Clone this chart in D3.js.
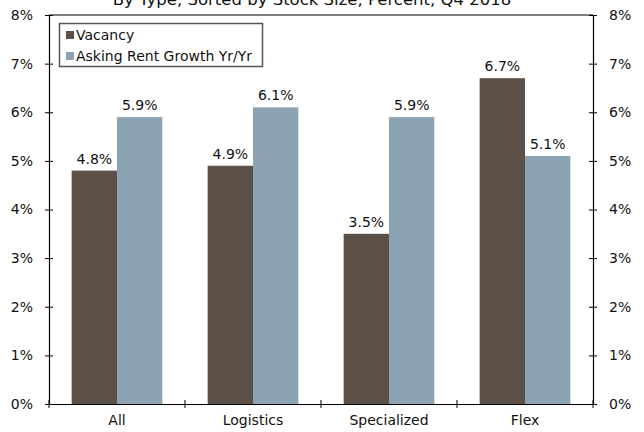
<!DOCTYPE html>
<html>
<head>
<meta charset="utf-8">
<script src="https://cdn.jsdelivr.net/npm/d3@7"></script>
<style>
  html, body { margin: 0; padding: 0; background: #fff; }
  svg { display: block; }
  text { font-family: "DejaVu Sans", Verdana, sans-serif; font-size: 14px; fill: #111; }
</style>
</head>
<body>
<svg id="chart" width="644" height="432"></svg>
<script>
const titleText = "By Type, Sorted by Stock Size, Percent, Q4 2018";
const categories = ["All", "Logistics", "Specialized", "Flex"];
const seriesNames = ["Vacancy", "Asking Rent Growth Yr/Yr"];
const vacancy = [4.8, 4.9, 3.5, 6.7];
const rentGrowth = [5.9, 6.1, 5.9, 5.1];
const yTicks = [0, 1, 2, 3, 4, 5, 6, 7, 8];
const colors = ["#5d5046", "#8ba3b3"];

const svg = d3.select("#chart");
const plotLeft = 49, plotRight = 593, plotTop = 15, plotBottom = 404;
const fontFamily = "'DejaVu Sans', Verdana, sans-serif";

const x0 = d3.scaleBand().domain(categories).range([plotLeft, plotRight]).padding(0);
const x1 = d3.scaleBand().domain(seriesNames).range([0, x0.bandwidth()])
  .paddingInner(0).paddingOuter(0.5);
const y = d3.scaleLinear().domain([0, 8]).range([plotBottom, plotTop]);
const color = d3.scaleOrdinal().domain(seriesNames).range(colors);

const rows = categories.map((c, i) => ({
  cat: c,
  vals: [
    { name: seriesNames[0], v: vacancy[i] },
    { name: seriesNames[1], v: rentGrowth[i] }
  ]
}));

// title (sits partly above the top edge of the canvas)
svg.append("text").attr("x", 312).attr("y", 5).attr("text-anchor", "middle")
  .style("font-size", "16.5px").text(titleText);

// bars
const groups = svg.append("g").selectAll("g").data(rows).join("g")
  .attr("transform", d => `translate(${x0(d.cat)},0)`);
groups.selectAll("rect").data(d => d.vals).join("rect")
  .attr("x", d => x1(d.name))
  .attr("y", d => y(d.v))
  .attr("width", x1.bandwidth())
  .attr("height", d => y(0) - y(d.v))
  .attr("fill", d => color(d.name));
groups.selectAll("text.val").data(d => d.vals).join("text")
  .attr("class", "val")
  .attr("x", d => x1(d.name) + x1.bandwidth() / 2)
  .attr("y", d => y(d.v) - 7)
  .attr("text-anchor", "middle")
  .text(d => d.v.toFixed(1) + "%");

// top frame line
svg.append("line").attr("x1", plotLeft).attr("x2", plotRight).attr("y1", plotTop).attr("y2", plotTop)
  .attr("stroke", "#000").attr("stroke-width", 1.2);

// left axis
const fmt = d => d + "%";
const yl = svg.append("g").attr("transform", `translate(${plotLeft},0)`)
  .call(d3.axisLeft(y).tickValues(yTicks).tickFormat(fmt).tickSize(0).tickPadding(16));
yl.select(".domain").attr("stroke", "#000").attr("stroke-width", 1.2);
yl.selectAll(".tick line").attr("x1", -4).attr("x2", 4).attr("stroke", "#000");
yl.selectAll(".tick text").style("font-size", "14px").attr("fill", "#111")
  .style("font-family", fontFamily);

// right axis
const yr = svg.append("g").attr("transform", `translate(${plotRight},0)`)
  .call(d3.axisRight(y).tickValues(yTicks).tickFormat(fmt).tickSize(0).tickPadding(16));
yr.select(".domain").attr("stroke", "#000").attr("stroke-width", 1.2);
yr.selectAll(".tick line").attr("x1", -4).attr("x2", 4).attr("stroke", "#000");
yr.selectAll(".tick text").style("font-size", "14px").attr("fill", "#111")
  .style("font-family", fontFamily);

// bottom axis with ticks at category boundaries
const xa = svg.append("g").attr("transform", `translate(0,${plotBottom})`)
  .call(d3.axisBottom(x0).tickSize(0).tickPadding(11));
xa.select(".domain").attr("stroke", "#000").attr("stroke-width", 1.2);
xa.selectAll(".tick text").style("font-size", "14px").attr("fill", "#111")
  .style("font-family", fontFamily);
const bounds = categories.map(c => x0(c)).concat([x0(categories[categories.length - 1]) + x0.bandwidth()]);
xa.selectAll("line.sep").data(bounds).join("line").attr("class", "sep")
  .attr("x1", d => d).attr("x2", d => d).attr("y1", -4).attr("y2", 4)
  .attr("stroke", "#000");

// legend
const lg = svg.append("g");
lg.append("rect").attr("x", 59.5).attr("y", 23.5).attr("width", 203).attr("height", 43)
  .attr("fill", "#fff").attr("stroke", "#555").attr("stroke-width", 1.5);
const items = lg.selectAll("g.item").data(seriesNames).join("g").attr("class", "item")
  .attr("transform", (d, i) => `translate(66,${31 + i * 21})`);
items.append("rect").attr("width", 8).attr("height", 8).attr("fill", d => color(d));
items.append("text").attr("x", 10).attr("y", 9).text(d => d);
</script>
</body>
</html>
